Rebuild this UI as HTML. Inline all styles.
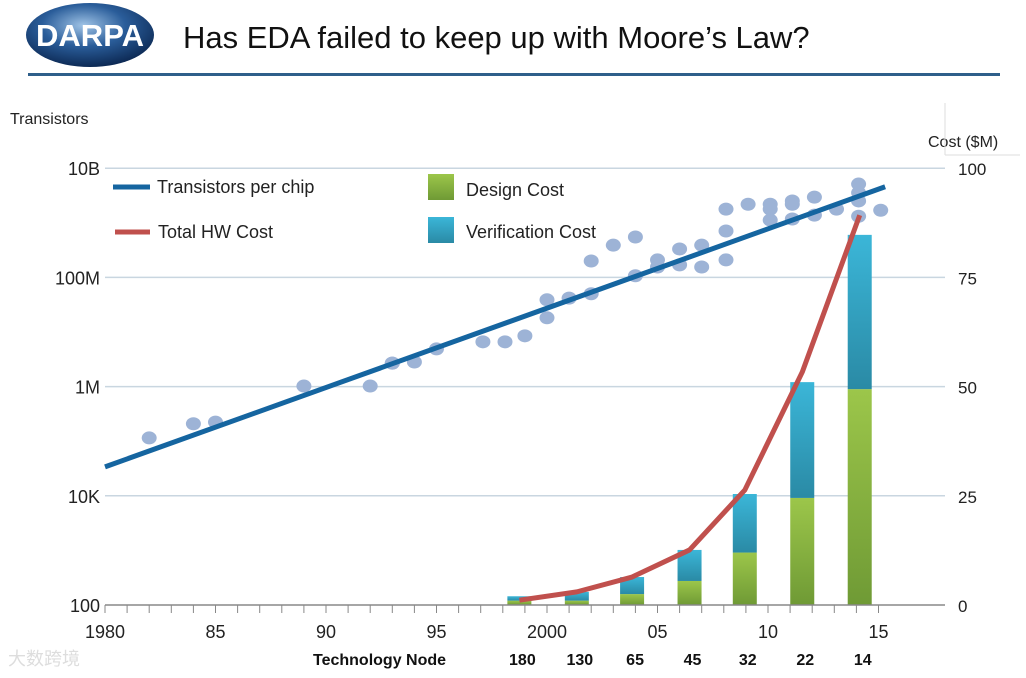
<!DOCTYPE html>
<html><head><meta charset="utf-8"><style>
body{margin:0;width:1026px;height:678px;background:#fff;overflow:hidden;font-family:"Liberation Sans","Noto Sans CJK SC",sans-serif}
svg{position:absolute;left:0;top:0}
</style></head><body>
<svg id="c" width="1026" height="678">
<defs>
<radialGradient id="globe" cx="45%" cy="35%" r="65%"><stop offset="0" stop-color="#9fc3e6"/><stop offset="0.5" stop-color="#2a5d9a"/><stop offset="1" stop-color="#0d2a55"/></radialGradient>
<linearGradient id="gv" x1="0" y1="0" x2="0" y2="1"><stop offset="0" stop-color="#3bb6d8"/><stop offset="1" stop-color="#2a8aa5"/></linearGradient>
<linearGradient id="gd" x1="0" y1="0" x2="0" y2="1"><stop offset="0" stop-color="#9cc64a"/><stop offset="1" stop-color="#6f9a35"/></linearGradient>
</defs>
<g>
<ellipse cx="90" cy="35" rx="64" ry="32" fill="url(#globe)"/>
<text x="90" y="46" text-anchor="middle" font-size="31" font-weight="bold" fill="#fff" font-family="Liberation Sans Narrow, Liberation Sans, sans-serif">DARPA</text>
</g>
<text x="183" y="48" font-size="31" fill="#111">Has EDA failed to keep up with Moore’s Law?</text>
<rect x="28" y="73" width="972" height="3" fill="#2e5f8a"/>
<text x="10" y="124" font-size="16" fill="#222">Transistors</text>
<text x="928" y="147" font-size="16" fill="#222">Cost ($M)</text>
<line x1="945" y1="103" x2="945" y2="155" stroke="#ddd"/>
<line x1="945" y1="155" x2="1020" y2="155" stroke="#ddd"/>
<g id="grid"></g><g id="bars"></g><g id="dots"></g><g id="lines"></g><g id="axes"></g>
<g>
<line x1="113" y1="187" x2="150" y2="187" stroke="#1565a0" stroke-width="5"/>
<text x="157" y="193" font-size="18" fill="#222">Transistors per chip</text>
<line x1="115" y1="232" x2="150" y2="232" stroke="#c0504d" stroke-width="5"/>
<text x="158" y="238" font-size="18" fill="#222">Total HW Cost</text>
<rect x="428" y="174" width="26" height="26" fill="url(#gd)"/>
<text x="466" y="196" font-size="18" fill="#222">Design Cost</text>
<rect x="428" y="217" width="26" height="26" fill="url(#gv)"/>
<text x="466" y="238" font-size="18" fill="#222">Verification Cost</text>
</g>
<text x="313" y="665" font-size="16" font-weight="bold" fill="#111">Technology Node</text>
<g id="nodes"></g>
<text x="8" y="665" font-size="18" fill="#ddd">大数跨境</text>
</svg>
<script>
const yearTicks=[1980,1985,1990,1995,2000,2005,2010,2015];
const yearLabels=["1980","85","90","95","2000","05","10","15"];
const logTicks=[2,4,6,8,10];
const logLabels=["100","10K","1M","100M","10B"];
const costTicks=[0,25,50,75,100];
const nodeYears=[1998.75,2001.35,2003.85,2006.45,2008.95,2011.55,2014.15];
const nodeLabels=["180","130","65","45","32","22","14"];
const designCost=[1,1,2.5,5.5,12,24.5,49.4];
const verifCost=[1,2,3.9,7.1,13.4,26.5,35.3];
const hwCost=[1.1,3,6.4,12.6,26.3,53.3,89.2];
const trendYears=[1980,2015.3];
const trendLog=[4.53,9.66];
const dotYears=[1982,1984,1985,1989,1992,1993,1993,1994,1995,1997.1,1998.1,1999,2000,2000,2001,2002,2002,2003,2004,2004,2005,2005,2006,2006,2007,2007,2008.1,2008.1,2008.1,2009.1,2010.1,2010.1,2010.1,2011.1,2011.1,2011.1,2012.1,2012.1,2013.1,2014.1,2014.1,2014.1,2014.1,2015.1];
const dotLog=[5.06,5.32,5.35,6.01,6.01,6.43,6.43,6.45,6.69,6.82,6.82,6.93,7.59,7.26,7.62,8.3,7.7,8.59,8.74,8.03,8.32,8.19,8.52,8.23,8.59,8.19,9.25,8.85,8.32,9.34,9.34,9.25,9.05,9.4,9.34,9.07,9.47,9.14,9.25,9.71,9.55,9.4,9.12,9.23];
const X=y=>105+(y-1980)*22.1, YL=l=>605-(l-2)*54.6, YC=c=>605-c*4.37;
const NS="http://www.w3.org/2000/svg";
function mk(p,t,a){const e=document.createElementNS(NS,t);for(const k in a)e.setAttribute(k,a[k]);document.getElementById(p).appendChild(e);return e;}
logTicks.forEach((l,i)=>{
 if(l>2){const g=mk('grid','line',{x1:105,x2:945,y1:YL(l),y2:YL(l),stroke:'#c9d6e0','stroke-width':1.5});
 
 }
 const t=mk('axes','text',{x:100,y:YL(l)+7,'text-anchor':'end','font-size':18,fill:'#222'});t.textContent=logLabels[i];
 
 
});
costTicks.forEach(c=>{const t=mk('axes','text',{x:958,y:YC(c)+7,'font-size':17,fill:'#222'});t.textContent=c;
 
 });
mk('axes','line',{x1:105,x2:945,y1:605,y2:605,stroke:'#888','stroke-width':1.5});
for(let y=1980;y<=2015;y++){mk('axes','line',{x1:X(y),x2:X(y),y1:605,y2:613,stroke:'#888'});}
yearTicks.forEach((y,i)=>{const t=mk('axes','text',{x:X(y),y:638,'text-anchor':'middle','font-size':18,fill:'#222'});t.textContent=yearLabels[i];
 
 });
nodeYears.forEach((y,i)=>{
 const x=X(y);
 const d=mk('bars','rect',{x:x-12,y:YC(designCost[i]),width:24,height:YC(0)-YC(designCost[i]),fill:'url(#gd)'});
 
 
 const v=mk('bars','rect',{x:x-12,y:YC(designCost[i]+verifCost[i]),width:24,height:YC(0)-YC(verifCost[i]),fill:'url(#gv)'});
 
 
 const t=mk('nodes','text',{x:x+3,y:665,'text-anchor':'middle','font-size':16,'font-weight':'bold',fill:'#111'});t.textContent=nodeLabels[i];
 
 
});
dotYears.forEach((y,i)=>{const e=mk('dots','ellipse',{cx:X(y),cy:YL(dotLog[i]),rx:7.5,ry:6.5,fill:'#9db3d6'});
 
 });
const tl=mk('lines','line',{x1:X(trendYears[0]),y1:YL(trendLog[0]),x2:X(trendYears[1]),y2:YL(trendLog[1]),stroke:'#1565a0','stroke-width':5});


const hp=mk('lines','polyline',{points:nodeYears.map((y,i)=>X(y)+','+YC(hwCost[i])).join(' '),fill:'none',stroke:'#c0504d','stroke-width':5,'stroke-linejoin':'round'});


</script>
</body></html>
